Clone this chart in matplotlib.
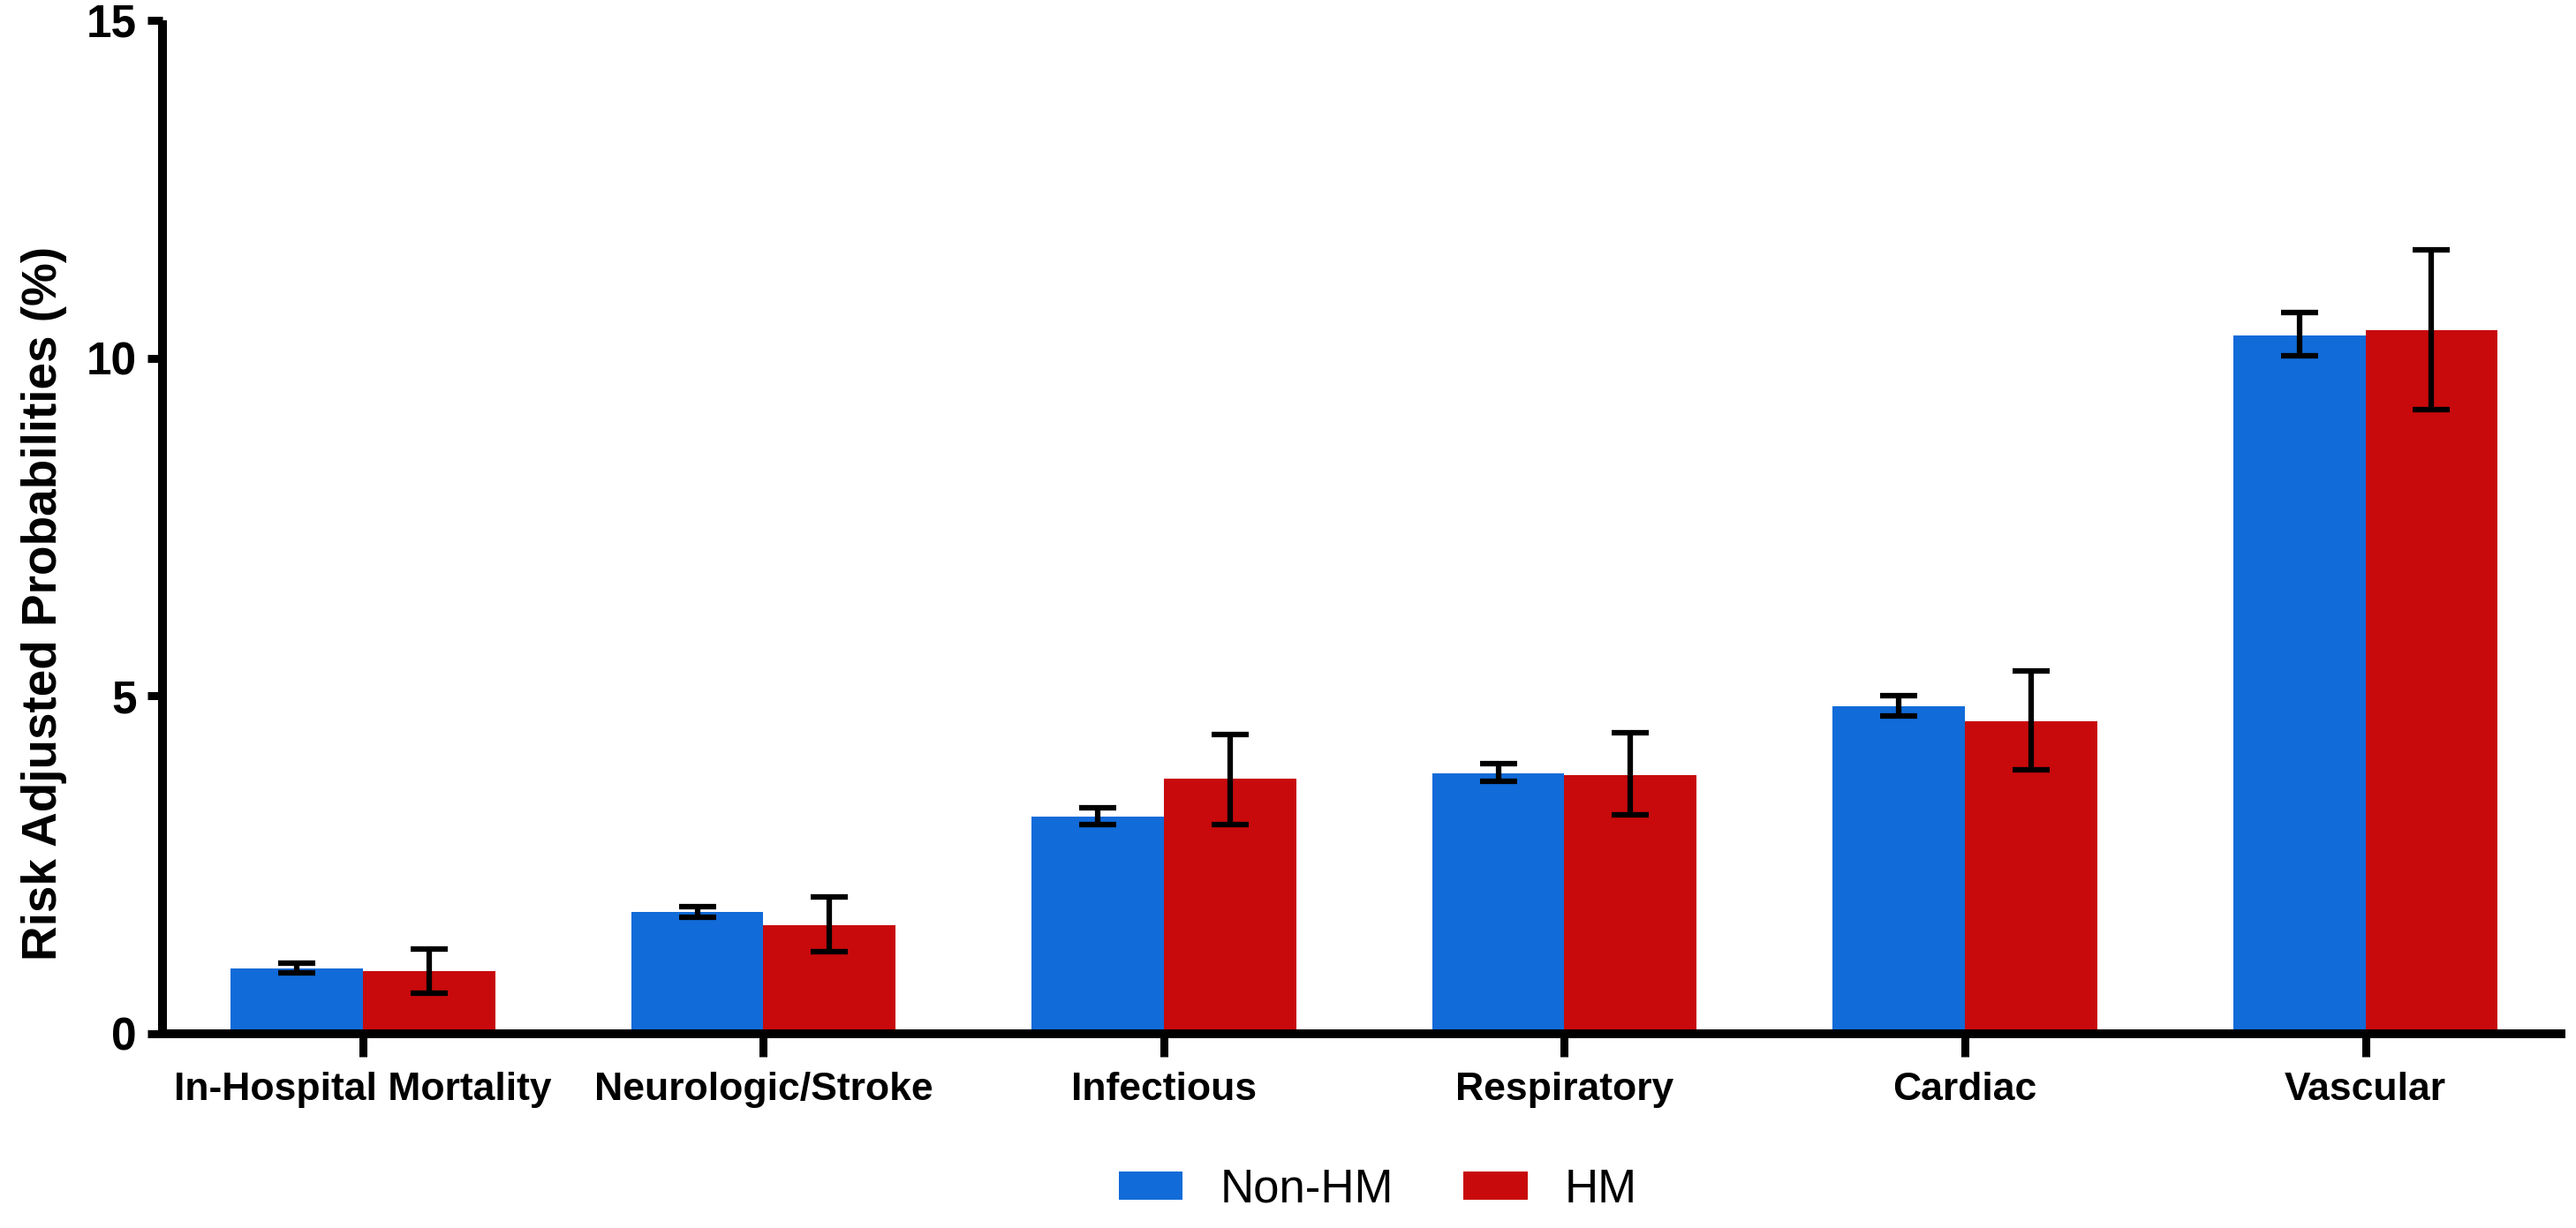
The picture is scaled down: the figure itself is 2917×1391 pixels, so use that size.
import numpy as np
import matplotlib
matplotlib.use("Agg")
import matplotlib.pyplot as plt

plt.rcParams['font.family'] = ['Liberation Sans', 'DejaVu Sans']

categories = ['In-Hospital Mortality', 'Neurologic/Stroke', 'Infectious',
              'Respiratory', 'Cardiac', 'Vascular']

# risk adjusted probabilities (%) and their confidence limits
non_hm = [0.97, 1.80, 3.22, 3.86, 4.85, 10.33]
non_hm_low = [0.90, 1.73, 3.10, 3.74, 4.70, 10.03]
non_hm_high = [1.04, 1.88, 3.35, 4.00, 5.00, 10.67]

hm = [0.93, 1.60, 3.77, 3.83, 4.63, 10.41]
hm_low = [0.60, 1.22, 3.10, 3.24, 3.90, 9.24]
hm_high = [1.25, 2.02, 4.43, 4.45, 5.37, 11.60]

blue = '#116bd8'
red = '#c80a0c'

x = np.arange(len(categories))
w = 0.33

fig = plt.figure(figsize=(29.17, 13.91), dpi=100)
ax = fig.add_axes([0.0631, 0.1582, 0.9329, 0.8253])

err_nh = [np.array(non_hm) - np.array(non_hm_low), np.array(non_hm_high) - np.array(non_hm)]
err_h = [np.array(hm) - np.array(hm_low), np.array(hm_high) - np.array(hm)]

ekw = dict(ecolor='black', elinewidth=4.5, capsize=15, capthick=4.5)
ax.bar(x - w / 2, non_hm, w, color=blue, label='Non-HM', yerr=err_nh, error_kw=ekw, zorder=2)
ax.bar(x + w / 2, hm, w, color=red, label='HM', yerr=err_h, error_kw=ekw, zorder=2)

ax.set_xlim(-0.5, 5.5)
ax.set_ylim(0, 15)
ax.set_yticks([0, 5, 10, 15])
ax.set_xticks(x)
ax.set_xticklabels(categories, fontsize=32, fontweight='bold')
for lab in ax.get_yticklabels():
    lab.set_fontsize(37)
    lab.set_fontweight('bold')

for s in ['top', 'right']:
    ax.spines[s].set_visible(False)
for s in ['left', 'bottom']:
    ax.spines[s].set_linewidth(7.2)
    ax.spines[s].set_capstyle('butt')

ax.tick_params(axis='y', length=12, width=6.5, pad=9)
ax.tick_params(axis='x', length=19, width=6.5, pad=12)

fig.text(50 / 2917, 1 - 683 / 1391, 'Risk Adjusted Probabilities (%)',
         rotation=90, ha='center', va='center', fontsize=39.5, fontweight='bold')

fig.legend(loc='center', bbox_to_anchor=(0.535, 0.031), ncol=2, frameon=False,
           fontsize=38, handlelength=1.37, handleheight=0.54,
           handletextpad=0.8, columnspacing=1.5)

fig.savefig('out.png', dpi=100)
